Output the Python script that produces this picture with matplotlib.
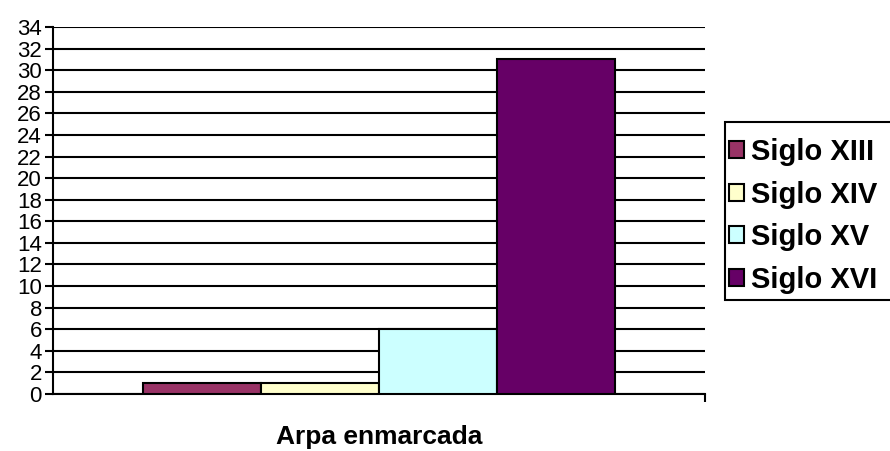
import matplotlib
matplotlib.use("Agg")
import matplotlib.pyplot as plt
from matplotlib.patches import Patch, Rectangle

plt.rcParams['font.family'] = ['Liberation Sans', 'DejaVu Sans']

# datos
category = "Arpa enmarcada"
series = ["Siglo XIII", "Siglo XIV", "Siglo XV", "Siglo XVI"]
values = [1, 1, 6, 31]
colors = ["#993366", "#FFFFCC", "#CCFFFF", "#660066"]
yticks = list(range(0, 35, 2))

W, H = 890, 451
fig = plt.figure(figsize=(W / 100, H / 100), dpi=100)
ax = fig.add_axes([53 / W, 1 - 394 / H, (705 - 53) / W, (394 - 27) / H])

width = 0.181
offsets = [(i - 1.5) * width for i in range(len(series))]
for off, v, c in zip(offsets, values, colors):
    ax.bar(off, v, width=width, color=c, edgecolor="black", linewidth=1.5, zorder=3)

ax.set_xlim(-0.5, 0.5)
ax.set_ylim(0, 34)
ax.set_yticks(yticks)
ax.set_yticklabels([str(t) for t in yticks], fontsize=16)
ax.yaxis.grid(True, color="black", linewidth=1.5, zorder=0)
ax.set_axisbelow(True)
ax.tick_params(axis="y", length=6, width=1.5, pad=2)

ax.set_xticks([0.5])
ax.set_xticklabels([""])
ax.tick_params(axis="x", length=6, width=1.5, direction="out")

for s in ["top", "right"]:
    ax.spines[s].set_visible(False)
for s in ["left", "bottom"]:
    ax.spines[s].set_linewidth(1.5)

# titulo de la categoria bajo el eje
fig.text(379 / W, 1 - 437 / H, category, ha="center", va="center",
         fontsize=19, fontweight="bold")

# marco de la leyenda (sale por el borde derecho)
fig.patches.append(Rectangle((725 / W, 1 - 300 / H), 200 / W, 178 / H,
                             transform=fig.transFigure, facecolor="white",
                             edgecolor="black", linewidth=1.5, zorder=1))

handles = [Patch(facecolor=c, edgecolor="black", linewidth=1.5) for c in colors]
leg = fig.legend(handles, series, loc="upper left",
                 bbox_to_anchor=(729 / W, 1 - 138 / H),
                 prop={"weight": "bold", "size": 21}, frameon=False,
                 handlelength=0.5, handleheight=0.5, handletextpad=0.25,
                 labelspacing=0.5, borderpad=0, borderaxespad=0)
leg.set_zorder(2)

fig.savefig("out.png", dpi=100)
